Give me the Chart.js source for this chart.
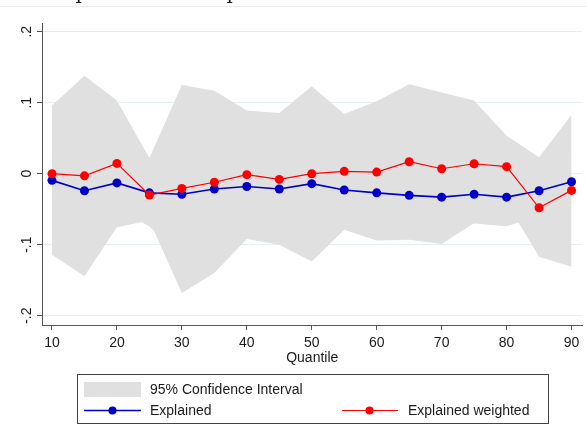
<!DOCTYPE html>
<html>
<head>
<meta charset="utf-8">
<script src="https://cdn.jsdelivr.net/npm/chart.js@4.4.0/dist/chart.umd.min.js"></script>
<style>
  html, body { margin: 0; padding: 0; background: #fff; }
  #wrap { width: 587px; height: 427px; position: relative; }
</style>
</head>
<body>
<div id="wrap"><canvas id="myChart" width="587" height="427"></canvas></div>
<script>
// quantiles on the x axis
var quantiles = [10, 15, 20, 25, 30, 35, 40, 45, 50, 55, 60, 65, 70, 75, 80, 85, 90];

// point estimates
var explained = [-0.0094, -0.024, -0.013, -0.027, -0.029, -0.0216, -0.018, -0.0216, -0.014, -0.023, -0.027, -0.0305, -0.033, -0.029, -0.033, -0.024, -0.0113];
var explainedWeighted = [0.0, -0.003, 0.0145, -0.030, -0.0207, -0.012, -0.0014, -0.008, 0.0, 0.0033, 0.0023, 0.0169, 0.007, 0.014, 0.0099, -0.048, -0.0235];

// 95% confidence bands (one for each series, same grey)
var weightedUpper = [0.096, 0.138, 0.103, 0.022, 0.125, 0.117, 0.089, 0.0855, 0.123, 0.084, 0.102, 0.126, 0.1145, 0.103, 0.0535, 0.023, 0.083];
var weightedLower = [-0.114, -0.1446, -0.0756, -0.066, -0.168, -0.140, -0.092, -0.100, -0.1235, -0.079, -0.094, -0.093, -0.099, -0.0695, -0.041, -0.117, -0.131];
var explainedUpper = [0.08, 0.09, 0.08, 0.015, 0.09, 0.08, 0.06, 0.06, 0.08, 0.06, 0.07, 0.08, 0.07, 0.04, 0.008, 0.01, 0.03];
var explainedLower = [-0.1, -0.13, -0.05, -0.074, -0.12, -0.11, -0.08, -0.085, -0.1, -0.07, -0.08, -0.085, -0.09, -0.07, -0.074, -0.06, -0.05];

// tick labels
var xTicks = [10, 20, 30, 40, 50, 60, 70, 80, 90];
var yTicks = [-0.2, -0.1, 0, 0.1, 0.2];
var yTickLabels = ['-.2', '-.1', '0', '.1', '.2'];

var bandColor = 'rgb(224,224,224)';
var blue = 'rgb(0,0,200)';
var red = 'rgb(255,0,0)';
var axisColor = '#555';
var textColor = '#1a1a1a';
var font = '"Liberation Sans", Arial, sans-serif';

function pts(arr) {
  return arr.map(function (v, i) { return { x: quantiles[i], y: v }; });
}

function band(arr, fill) {
  return {
    data: pts(arr),
    borderWidth: 0,
    pointRadius: 0,
    backgroundColor: bandColor,
    fill: fill,
    tension: 0
  };
}

// text, y labels and legend drawn by hand (Stata look)
var decorations = {
  id: 'decorations',
  afterDraw: function (chart) {
    var ctx = chart.ctx;
    var xs = chart.scales.x, ys = chart.scales.y;
    ctx.save();

    // cut-off title remains at the very top
    ctx.fillStyle = '#ececec';
    ctx.fillRect(0, 6, 587, 1);
    ctx.fillStyle = textColor;
    ctx.font = '20px "DejaVu Serif", serif';
    ctx.textAlign = 'center';
    ctx.textBaseline = 'alphabetic';
    ctx.fillText('p', 82, -1);
    ctx.fillText('p', 233, -1);

    // y tick labels, rotated
    ctx.font = '14px ' + font;
    ctx.textAlign = 'center';
    ctx.textBaseline = 'middle';
    yTicks.forEach(function (v, i) {
      var py = ys.getPixelForValue(v);
      ctx.save();
      ctx.translate(27, py);
      ctx.rotate(-Math.PI / 2);
      ctx.fillText(yTickLabels[i], 0, 0);
      ctx.restore();
    });

    // x tick labels and axis title
    xTicks.forEach(function (v) {
      ctx.fillText(String(v), xs.getPixelForValue(v), 343);
    });
    ctx.font = '14px ' + font;
    ctx.fillText('Quantile', (chart.chartArea.left + chart.chartArea.right) / 2, 358);

    // legend
    ctx.strokeStyle = '#444';
    ctx.lineWidth = 1;
    ctx.strokeRect(77.5, 374.5, 471, 49);
    ctx.fillStyle = bandColor;
    ctx.fillRect(84, 382, 57, 15);
    ctx.textAlign = 'left';
    ctx.fillStyle = textColor;
    ctx.font = '14px ' + font;
    ctx.fillText('95% Confidence Interval', 150, 390);
    ctx.fillText('Explained', 150, 411);
    ctx.fillText('Explained weighted', 408, 411);

    ctx.strokeStyle = blue;
    ctx.lineWidth = 1.5;
    ctx.beginPath(); ctx.moveTo(84, 410.5); ctx.lineTo(141, 410.5); ctx.stroke();
    ctx.fillStyle = blue;
    ctx.beginPath(); ctx.arc(112.5, 410.5, 4, 0, Math.PI * 2); ctx.fill();

    ctx.strokeStyle = red;
    ctx.lineWidth = 1;
    ctx.beginPath(); ctx.moveTo(342, 410.5); ctx.lineTo(398, 410.5); ctx.stroke();
    ctx.fillStyle = red;
    ctx.beginPath(); ctx.arc(369.5, 410.5, 4, 0, Math.PI * 2); ctx.fill();

    ctx.restore();
  }
};

var ctx = document.getElementById('myChart').getContext('2d');
var myChart = new Chart(ctx, {
  type: 'line',
  data: {
    datasets: [
      {
        label: 'Explained weighted',
        data: pts(explainedWeighted),
        borderColor: red,
        backgroundColor: red,
        borderWidth: 1.2,
        pointRadius: 4.5,
        pointBorderWidth: 0,
        fill: false,
        tension: 0
      },
      {
        label: 'Explained',
        data: pts(explained),
        borderColor: blue,
        backgroundColor: blue,
        borderWidth: 1.6,
        pointRadius: 4.5,
        pointBorderWidth: 0,
        fill: false,
        tension: 0
      },
      band(explainedLower, false),
      band(explainedUpper, '-1'),
      band(weightedLower, false),
      band(weightedUpper, '-1')
    ]
  },
  options: {
    responsive: false,
    animation: false,
    layout: { padding: { top: 23, right: 3, left: 0, bottom: 0 } },
    plugins: {
      legend: { display: false },
      tooltip: { enabled: false },
      filler: { drawTime: 'beforeDatasetsDraw' }
    },
    scales: {
      x: {
        type: 'linear',
        min: 8.4645,
        max: 91.689,
        afterBuildTicks: function (scale) {
          scale.ticks = xTicks.map(function (v) { return { value: v }; });
        },
        afterFit: function (scale) { scale.height = 102; },
        ticks: { display: false },
        grid: { display: true, drawOnChartArea: false, drawTicks: true, tickLength: 5, tickColor: axisColor },
        border: { display: true, color: axisColor, width: 1 }
      },
      y: {
        type: 'linear',
        min: -0.2131,
        max: 0.21225,
        afterBuildTicks: function (scale) {
          scale.ticks = yTicks.map(function (v) { return { value: v }; });
        },
        afterFit: function (scale) { scale.width = 42; },
        ticks: { display: false },
        grid: { color: '#e6eff2', lineWidth: 1, drawTicks: true, tickLength: 5, tickColor: axisColor },
        border: { display: true, color: axisColor, width: 1 }
      }
    }
  },
  plugins: [decorations]
});
</script>
</body>
</html>
